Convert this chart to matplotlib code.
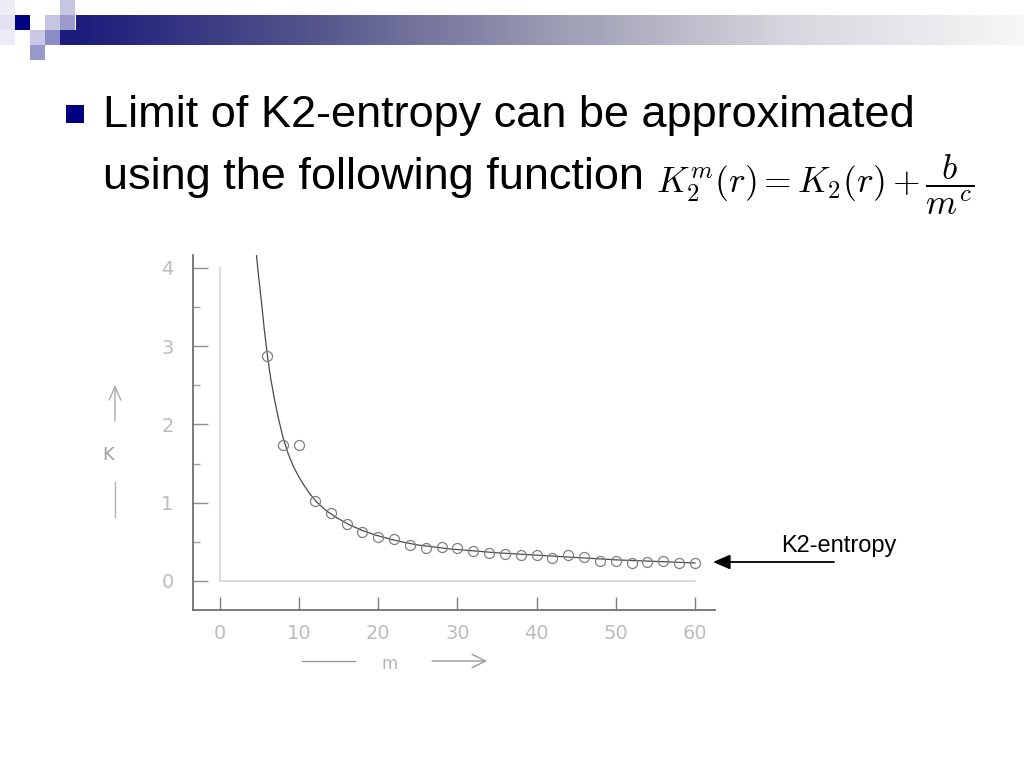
import matplotlib
matplotlib.use("Agg")
import matplotlib.pyplot as plt
import matplotlib.patches as patches
from matplotlib.colors import LinearSegmentedColormap
import numpy as np

m_points = [6, 8, 10, 12, 14, 16, 18, 20, 22, 24, 26, 28, 30, 32, 34, 36, 38, 40,
            42, 44, 46, 48, 50, 52, 54, 56, 58, 60]
k_points = [2.87, 1.74, 1.74, 1.02, 0.87, 0.73, 0.62, 0.56, 0.54, 0.46, 0.42, 0.44,
            0.42, 0.38, 0.355, 0.34, 0.33, 0.33, 0.29, 0.33, 0.31, 0.25, 0.26, 0.23,
            0.24, 0.25, 0.235, 0.225]

# fitted curve K2 + b/m^c
curve_m = [4.6, 4.9, 5.2, 5.6, 6.0, 6.4, 6.9, 7.4, 8.0, 8.6, 9.2, 9.8, 10.5, 11.3,
           12.2, 13.4, 14.7, 16.3, 18.0, 19.7, 21.5, 23.2, 25.0, 27.0, 29.0, 32.0,
           35.0, 40.0, 45.0, 50.0, 55.0, 60.0]
curve_k = [4.17, 3.87, 3.60, 3.21, 2.87, 2.59, 2.31, 2.07, 1.82, 1.63, 1.48, 1.36,
           1.24, 1.12, 1.01, 0.90, 0.81, 0.72, 0.645, 0.585, 0.535, 0.495, 0.46,
           0.435, 0.41, 0.385, 0.36, 0.33, 0.30, 0.27, 0.25, 0.23]

x_ticks = [0, 10, 20, 30, 40, 50, 60]
x_labels = ["0", "10", "20", "30", "40", "50", "60"]
y_ticks = [0, 1, 2, 3, 4]
y_labels = ["0", "1", "2", "3", "4"]
y_minor = [0.5, 1.5, 2.5, 3.5]

W, H = 1024, 768
fig = plt.figure(figsize=(W / 100, H / 100), dpi=100)
fig.patch.set_facecolor("white")

# overlay in pixel coordinates for the slide decorations
deco = fig.add_axes([0, 0, 1, 1])
deco.set_xlim(0, W)
deco.set_ylim(H, 0)
deco.axis("off")
deco.patch.set_alpha(0)

# gradient title bar
cmap = LinearSegmentedColormap.from_list(
    "bar", ["#1c1c7c", "#55558c", "#9a9ab2", "#d6d6de", "#f7f7f9"])
grad = np.linspace(0, 1, 512).reshape(1, -1)
deco.imshow(grad, cmap=cmap, extent=[76, W, 45, 15], aspect="auto", zorder=1)
deco.imshow(grad[:, :1], cmap=cmap, extent=[60, 76, 45, 30], aspect="auto", zorder=1,
            vmin=0, vmax=1)

# little squares in the corner
squares = [
    ((0, 0), "#ececf6"), ((0, 15), "#e2e2f0"), ((0, 30), "#ececf6"),
    ((15, 15), "#000080"),
    ((45, 15), "#c6c6e2"), ((60, 0), "#c6c6e2"), ((60, 15), "#9a9acc"),
    ((30, 30), "#c8c8e6"), ((45, 30), "#8c8cc4"), ((30, 45), "#9898cc"),
]
for (x0, y0), c in squares:
    deco.add_patch(patches.Rectangle((x0, y0), 15, 15, color=c, lw=0, zorder=2))

# bullet + text
deco.add_patch(patches.Rectangle((66, 105), 18, 18, color="#000080", lw=0))
deco.text(103, 127, "Limit of K2-entropy can be approximated", fontsize=32.5,
          family="Liberation Sans", va="baseline", ha="left", color="black")
deco.text(103, 189, "using the following function", fontsize=32.5,
          family="Liberation Sans", va="baseline", ha="left", color="black")
plt.rcParams["mathtext.fontset"] = "cm"
deco.text(656, 185, r"$K_2^m(r) = K_2(r) + \dfrac{b}{m^c}$", fontsize=25.5,
          va="center", ha="left", color="black")

# K2-entropy annotation
deco.text(781, 552, "K2-entropy", fontsize=17, family="Liberation Sans",
          va="baseline", ha="left", color="black")
deco.annotate("", xy=(713, 562), xytext=(834, 562),
              arrowprops=dict(arrowstyle="-|>,head_length=0.65,head_width=0.28",
                              mutation_scale=16, color="black", lw=1.3,
                              shrinkA=0, shrinkB=0))

# axis captions of the scanned plot
lab_col = "#b4b4b4"
deco.text(390, 664, "m", fontsize=12, color=lab_col, ha="center", va="center")
deco.plot([302, 355], [661, 661], color="#9a9a9a", lw=1)
deco.annotate("", xy=(487, 661), xytext=(432, 661),
              arrowprops=dict(arrowstyle="->,head_length=0.8,head_width=0.4",
                              mutation_scale=12, color="#9a9a9a", lw=1,
                              shrinkA=0, shrinkB=0))
deco.text(108, 455, "K", fontsize=13, color="#a0a0a0", ha="center", va="center")
deco.annotate("", xy=(115, 385), xytext=(115, 421),
              arrowprops=dict(arrowstyle="->,head_length=0.8,head_width=0.35",
                              mutation_scale=12, color="#a8a8a8", lw=1,
                              shrinkA=0, shrinkB=0))
deco.plot([115, 115], [482, 517], color="#b0b0b0", lw=1)

# the plot itself
ax = fig.add_axes([193 / W, 1 - 610 / H, (715 - 193) / W, (610 - 255) / H])
ax.patch.set_alpha(0)
ax.set_xlim(-3.41, 62.53)
ax.set_ylim(-0.371, 4.166)
for s in ["top", "right"]:
    ax.spines[s].set_visible(False)
for s in ["left", "bottom"]:
    ax.spines[s].set_color("#707070")
    ax.spines[s].set_linewidth(1.3)

# inner frame lines
ax.plot([0, 0], [0, 4.0], color="#d4d4d4", lw=1.2)
ax.plot([0, 60], [0, 0], color="#d4d4d4", lw=1.2)

ax.plot(curve_m, curve_k, color="#4a4a4a", lw=0.9)
ax.plot(m_points, k_points, "o", ms=7.2, mfc="none", mec="#808080", mew=0.9)

ax.set_xticks(x_ticks)
ax.set_xticklabels(x_labels)
ax.set_yticks(y_ticks)
ax.set_yticklabels(y_labels)
ax.set_yticks(y_minor, minor=True)
ax.tick_params(axis="x", direction="in", length=9.5, width=1, color="#808080",
               labelcolor="#bcbcbc", labelsize=14, pad=10)
ax.tick_params(axis="y", which="major", direction="in", length=10.5, width=1,
               color="#909090", labelcolor="#bcbcbc", labelsize=14, pad=14)
ax.tick_params(axis="y", which="minor", direction="in", length=5, width=1,
               color="#a0a0a0")

fig.savefig("out.png", dpi=100, facecolor="white")
